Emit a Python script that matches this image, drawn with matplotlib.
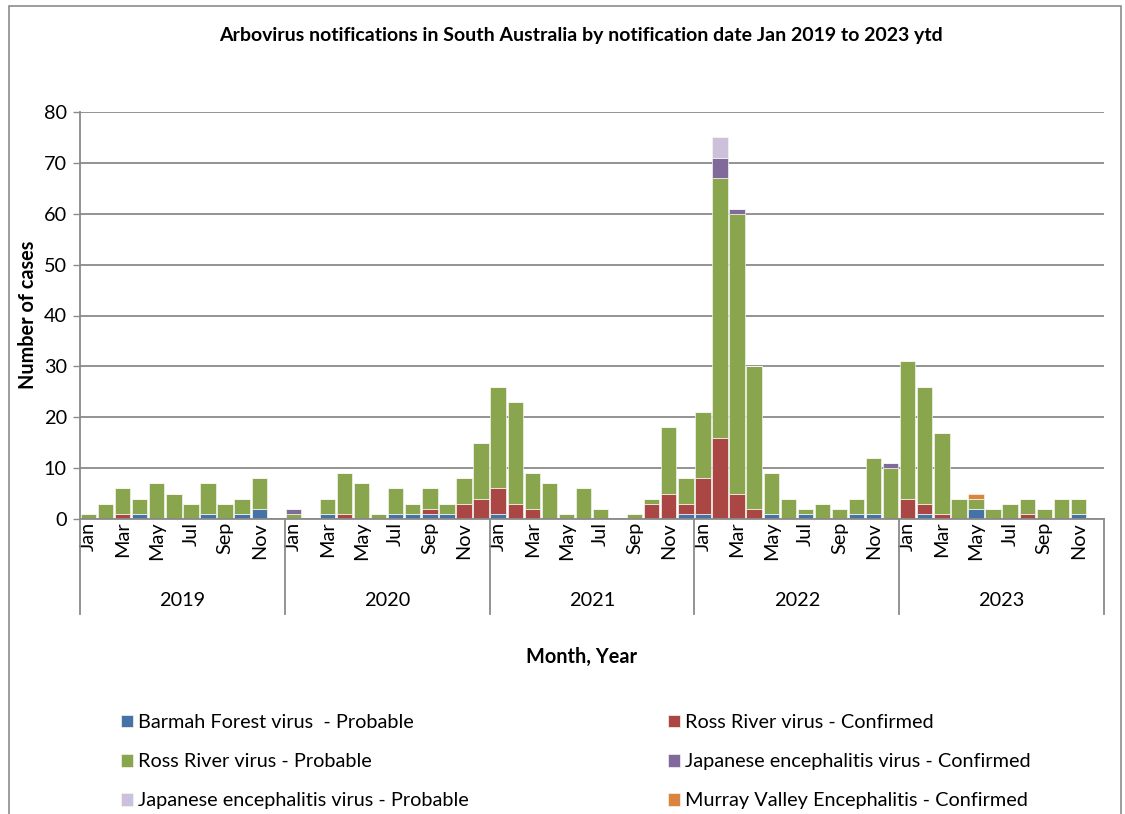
import numpy as np
import matplotlib
matplotlib.use("Agg")
import matplotlib.pyplot as plt
import matplotlib.patches as mpatches
import matplotlib.transforms as mtransforms

plt.rcParams['font.family'] = ['Lato', 'DejaVu Sans']

# Monthly notifications, Jan 2019 - Dec 2023
years = ['2019', '2020', '2021', '2022', '2023']
months = ['Jan', 'Feb', 'Mar', 'Apr', 'May', 'Jun', 'Jul', 'Aug', 'Sep', 'Oct', 'Nov', 'Dec']

barmah_prob = [0, 0, 0, 1, 0, 0, 0, 1, 0, 1, 2, 0,
               0, 0, 1, 0, 0, 0, 1, 1, 1, 1, 0, 0,
               1, 0, 0, 0, 0, 0, 0, 0, 0, 0, 0, 1,
               1, 0, 0, 0, 1, 0, 1, 0, 0, 1, 1, 0,
               0, 1, 0, 0, 2, 0, 0, 0, 0, 0, 1, 0]
ross_conf = [0, 0, 1, 0, 0, 0, 0, 0, 0, 0, 0, 0,
             0, 0, 0, 1, 0, 0, 0, 0, 1, 0, 3, 4,
             5, 3, 2, 0, 0, 0, 0, 0, 0, 3, 5, 2,
             7, 16, 5, 2, 0, 0, 0, 0, 0, 0, 0, 0,
             4, 2, 1, 0, 0, 0, 0, 1, 0, 0, 0, 0]
ross_prob = [1, 3, 5, 3, 7, 5, 3, 6, 3, 3, 6, 0,
             1, 0, 3, 8, 7, 1, 5, 2, 4, 2, 5, 11,
             20, 20, 7, 7, 1, 6, 2, 0, 1, 1, 13, 5,
             13, 51, 55, 28, 8, 4, 1, 3, 2, 3, 11, 10,
             27, 23, 16, 4, 2, 2, 3, 3, 2, 4, 3, 0]
je_conf = [0] * 12 + [1] + [0] * 11 + [0] * 12 + \
          [0, 4, 1, 0, 0, 0, 0, 0, 0, 0, 0, 1] + [0] * 12
je_prob = [0] * 36 + [0, 4] + [0] * 10 + [0] * 12
mve_conf = [0] * 48 + [0, 0, 0, 0, 1] + [0] * 7

series = [
    ('Barmah Forest virus  - Probable', barmah_prob, '#4572A7'),
    ('Ross River virus - Confirmed', ross_conf, '#AA4643'),
    ('Ross River virus - Probable', ross_prob, '#89A54E'),
    ('Japanese encephalitis virus - Confirmed', je_conf, '#80699B'),
    ('Japanese encephalitis virus - Probable', je_prob, '#CCC1DA'),
    ('Murray Valley Encephalitis - Confirmed', mve_conf, '#DB843D'),
]

W, H = 1125, 814
fs = 14.3
fig = plt.figure(figsize=(W / 100, H / 100), dpi=100)
ax = fig.add_axes([80 / W, 1 - 519 / H, (1104 - 80) / W, (519 - 112) / H])

x = np.arange(len(ross_prob))
bottom = np.zeros(len(x))
handles = {}
for name, vals, col in series:
    vals = np.array(vals)
    b = ax.bar(x, vals, bottom=bottom, width=0.9, color=col,
               edgecolor='#f4f6ee', linewidth=0.5, label=name)
    handles[name] = b
    bottom += vals

grey = '#8a8a8a'
ax.set_xlim(-0.5, 59.5)
ax.set_ylim(0, 80)
ax.set_yticks(range(0, 81, 10))
ax.yaxis.grid(True, color=grey, linewidth=1.3)
ax.set_axisbelow(True)
for s in ax.spines.values():
    s.set_visible(False)

ax.tick_params(axis='y', length=5, width=1, color=grey, pad=4.5, labelsize=fs)
ax.set_xticks(x[::2])
ax.set_xticklabels([m for _ in years for m in months[::2]], rotation=90, fontsize=fs)
ax.tick_params(axis='x', length=0, pad=2)

trans = mtransforms.blended_transform_factory(ax.transData, ax.transAxes)
depth = -(614 - 519) / 407
ax.plot([-0.5, 59.5], [0, 0], transform=trans, color=grey, lw=1.3, clip_on=False)
ax.plot([-0.5, -0.5], [depth, 1], transform=trans, color=grey, lw=1.3, clip_on=False)
for k in range(1, 6):
    ax.plot([12 * k - 0.5] * 2, [depth, 0], transform=trans, color=grey, lw=1.3, clip_on=False)
for k, yr in enumerate(years):
    ax.text(12 * k + 5.5, -(600 - 519) / 407, yr, transform=trans,
            ha='center', va='center', fontsize=fs)

fig.text(581 / W, 1 - 35 / H,
         'Arbovirus notifications in South Australia by notification date Jan 2019 to 2023 ytd',
         ha='center', va='center', fontsize=14, fontweight='bold')
fig.text(28 / W, 1 - 315 / H, 'Number of cases', rotation=90,
         ha='center', va='center', fontsize=fs, fontweight='bold')
fig.text(581 / W, 1 - 657 / H, 'Month, Year', ha='center', va='center',
         fontsize=fs, fontweight='bold')

# legend, filled row by row in two columns
names = [s[0] for s in series]
col1 = [names[0], names[2], names[4]]
col2 = [names[1], names[3], names[5]]
for cols, xpos in [(col1, 121 / W), (col2, 668 / W)]:
    fig.legend([handles[n] for n in cols], cols, loc='upper left',
               bbox_to_anchor=(xpos, 1 - 714 / H), frameon=False, fontsize=fs,
               handlelength=0.6, handleheight=0.6, handletextpad=0.25,
               labelspacing=1.12, borderpad=0, borderaxespad=0)

fig.patches.append(mpatches.Rectangle((9 / W, -0.05), (1121 - 9) / W, 1.05 - 6 / H,
                                      transform=fig.transFigure, fill=False,
                                      edgecolor='#8c8c8c', linewidth=1.2))

fig.savefig('out.png', dpi=100)
